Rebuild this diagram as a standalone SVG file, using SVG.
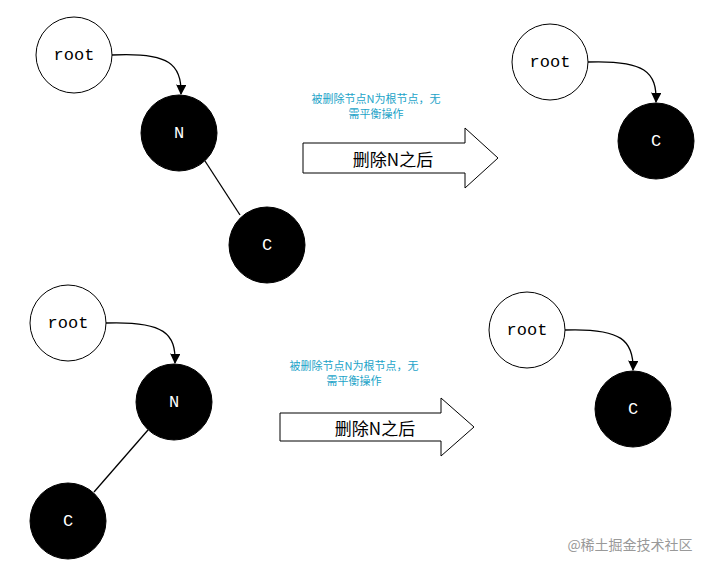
<svg xmlns="http://www.w3.org/2000/svg" width="712" height="570" viewBox="0 0 712 570">
<style>
.w{fill:#fff;stroke:#000;stroke-width:1}
.b{fill:#000;stroke:#000}
.t{font-family:"Liberation Mono",monospace;font-size:17px;text-anchor:middle;dominant-baseline:central}
.tw{fill:#fff}
.c{font-family:"Noto Sans CJK SC",sans-serif;font-size:11px;fill:#1aa3c8;text-anchor:middle}
.a{font-family:"Noto Sans CJK SC",sans-serif;font-size:17px;text-anchor:middle;dominant-baseline:central}
.ln{fill:none;stroke:#000;stroke-width:1.3}
</style>
<defs><marker id="m" viewBox="0 0 10 10" refX="9" refY="5" markerWidth="8" markerHeight="8" orient="auto"><path d="M0,0L10,5L0,10z"/></marker></defs>
<rect width="712" height="570" fill="#fff"/>
<g id="connectors">
<path class="ln" d="M112,55 C170,52 182,65 181,94" marker-end="url(#m)"/>
<line class="ln" x1="205" y1="161" x2="240" y2="215"/>
<path class="ln" d="M588,62 C645,60 657,72 656,102" marker-end="url(#m)"/>
<path class="ln" d="M106,323 C165,321 176,334 175,363" marker-end="url(#m)"/>
<line class="ln" x1="148" y1="430" x2="94" y2="492"/>
<path class="ln" d="M565,330 C622,328 634,341 633,370" marker-end="url(#m)"/>
</g>
<g id="root1"><circle class="w" cx="74" cy="55" r="38"/><text class="t" x="74" y="55">root</text></g>
<g id="N1"><circle class="b" cx="179" cy="133" r="38"/><text class="t tw" x="179" y="133">N</text></g>
<g id="C1"><circle class="b" cx="267" cy="245" r="38"/><text class="t tw" x="267" y="245">C</text></g>
<g id="arrow1"><text class="c" x="376" y="103">被删除节点N为根节点，无</text><text class="c" x="376" y="118">需平衡操作</text>
<path class="w" d="M303,143H465V128L498,158L465,188V173H303Z"/><text class="a" x="393" y="158">删除N之后</text></g>
<g id="root2"><circle class="w" cx="550" cy="62" r="38"/><text class="t" x="550" y="62">root</text></g>
<g id="C2"><circle class="b" cx="656" cy="141" r="38"/><text class="t tw" x="656" y="141">C</text></g>
<g id="root3"><circle class="w" cx="68" cy="323" r="38"/><text class="t" x="68" y="323">root</text></g>
<g id="N3"><circle class="b" cx="174" cy="402" r="38"/><text class="t tw" x="174" y="402">N</text></g>
<g id="C3"><circle class="b" cx="68" cy="521" r="38"/><text class="t tw" x="68" y="521">C</text></g>
<g id="arrow2"><text class="c" x="354" y="370">被删除节点N为根节点，无</text><text class="c" x="354" y="385">需平衡操作</text>
<path class="w" d="M280,413H441V398L474,427L441,456V441H280Z"/><text class="a" x="375" y="427">删除N之后</text></g>
<g id="root4"><circle class="w" cx="527" cy="330" r="38"/><text class="t" x="527" y="330">root</text></g>
<g id="C4"><circle class="b" cx="633" cy="409" r="38"/><text class="t tw" x="633" y="409">C</text></g>
<text x="630" y="550" font-family="Noto Sans CJK SC,sans-serif" font-size="14" fill="#999" text-anchor="middle">@稀土掘金技术社区</text>
</svg>
